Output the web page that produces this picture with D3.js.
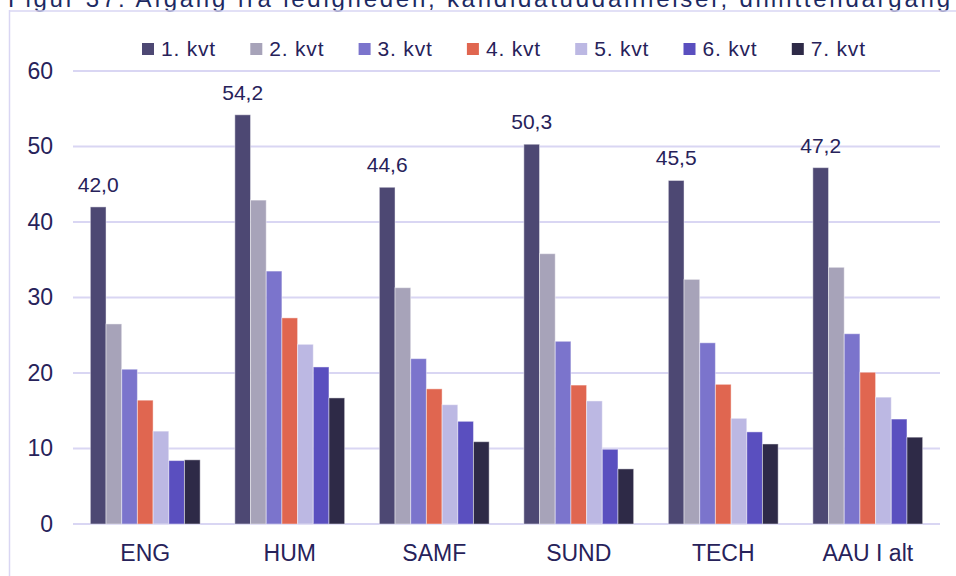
<!DOCTYPE html>
<html>
<head>
<meta charset="utf-8">
<script src="https://cdn.jsdelivr.net/npm/d3@7"></script>
<style>
  body { margin: 0; background: #fff; }
  svg { display: block; font-family: "Liberation Sans", Arial, sans-serif; }
</style>
</head>
<body>
<div id="chart"></div>
<script>
// data
var categories = ["ENG", "HUM", "SAMF", "SUND", "TECH", "AAU I alt"];
var seriesNames = ["1. kvt", "2. kvt", "3. kvt", "4. kvt", "5. kvt", "6. kvt", "7. kvt"];
var kvt1 = [42.0, 54.2, 44.6, 50.3, 45.5, 47.2];
var kvt2 = [26.5, 42.9, 31.3, 35.8, 32.4, 34.0];
var kvt3 = [20.5, 33.5, 21.9, 24.2, 24.0, 25.2];
var kvt4 = [16.4, 27.3, 17.9, 18.4, 18.5, 20.1];
var kvt5 = [12.3, 23.8, 15.8, 16.3, 14.0, 16.8];
var kvt6 = [8.4, 20.8, 13.6, 9.9, 12.2, 13.9];
var kvt7 = [8.5, 16.7, 10.9, 7.3, 10.6, 11.5];
var yTicks = [0, 10, 20, 30, 40, 50, 60];
var colors = ["#4d4873", "#a7a3b9", "#7b74cc", "#e06650", "#bcb8e3", "#5a4fbf", "#2e2a47"];

var allSeries = [kvt1, kvt2, kvt3, kvt4, kvt5, kvt6, kvt7];

var width = 956;
var height = 576;
var textColor = "#27225a";
var gridColor = "#d9d6f3";

var svg = d3.select("#chart")
  .append("svg")
  .attr("width", width)
  .attr("height", height);

// title, cut off by the top edge like in the source
svg.append("text")
  .attr("x", 8)
  .attr("y", 7)
  .attr("textLength", 942)
  .attr("lengthAdjust", "spacing")
  .style("font-size", "24px")
  .attr("fill", "#1d2a62")
  .text("Figur 37: Afgang fra ledigheden, kandidatuddannelser, dimittendårgang");

// frame
svg.append("line")
  .attr("x1", 9).attr("x2", width).attr("y1", 11).attr("y2", 11)
  .attr("stroke", gridColor).attr("stroke-width", 1.5);
svg.append("line")
  .attr("x1", 9.5).attr("x2", 9.5).attr("y1", 10).attr("y2", height)
  .attr("stroke", gridColor).attr("stroke-width", 1.5);

var x0 = d3.scaleBand()
  .domain(categories)
  .range([73, 940])
  .paddingInner(0.24)
  .paddingOuter(0.12);

var x1 = d3.scaleBand()
  .domain(seriesNames)
  .range([0, x0.bandwidth()]);

var y = d3.scaleLinear()
  .domain([0, 60])
  .range([524, 71]);

// gridlines
svg.append("g")
  .selectAll("line")
  .data(yTicks)
  .enter()
  .append("line")
  .attr("x1", 73)
  .attr("x2", 940)
  .attr("y1", function(d) { return y(d); })
  .attr("y2", function(d) { return y(d); })
  .attr("stroke", gridColor)
  .attr("stroke-width", 2);

// y axis labels
var yAxis = svg.append("g")
  .attr("transform", "translate(53,0)")
  .call(d3.axisLeft(y).tickValues(yTicks).tickSize(0).tickPadding(0));
yAxis.select(".domain").remove();
yAxis.selectAll("text")
  .attr("fill", textColor)
  .style("font-size", "23px")
  .style("font-family", "'Liberation Sans', Arial, sans-serif");

// bars
var groups = svg.append("g")
  .selectAll("g")
  .data(categories)
  .enter()
  .append("g")
  .attr("transform", function(d) { return "translate(" + x0(d) + ",0)"; });

groups.selectAll("rect")
  .data(function(d, i) {
    return seriesNames.map(function(s, j) { return { key: s, idx: j, value: allSeries[j][i] }; });
  })
  .enter()
  .append("rect")
  .attr("x", function(d) { return x1(d.key); })
  .attr("width", x1.bandwidth())
  .attr("y", function(d) { return y(d.value); })
  .attr("height", function(d) { return y(0) - y(d.value); })
  .attr("fill", function(d) { return colors[d.idx]; })
  .attr("stroke", "#ffffff")
  .attr("stroke-opacity", 0.45)
  .attr("stroke-width", 1);

// value labels on first series
svg.append("g")
  .selectAll("text")
  .data(categories)
  .enter()
  .append("text")
  .attr("x", function(d) { return x0(d) + x1(seriesNames[0]) + x1.bandwidth() / 2; })
  .attr("y", function(d, i) { return y(kvt1[i]) - 15; })
  .attr("text-anchor", "middle")
  .attr("fill", textColor)
  .style("font-size", "21px")
  .text(function(d, i) { return kvt1[i].toFixed(1).replace(".", ","); });

// x axis labels
var xAxis = svg.append("g")
  .attr("transform", "translate(0," + y(0) + ")")
  .call(d3.axisBottom(x0).tickSize(0).tickPadding(21));
xAxis.select(".domain").remove();
xAxis.selectAll("text")
  .attr("fill", textColor)
  .style("font-size", "23px")
  .style("font-family", "'Liberation Sans', Arial, sans-serif");

// legend
var legend = svg.append("g")
  .selectAll("g")
  .data(seriesNames)
  .enter()
  .append("g")
  .attr("transform", function(d, i) { return "translate(" + (142 + i * 108.3) + ",43)"; });

legend.append("rect")
  .attr("width", 12)
  .attr("height", 12)
  .attr("fill", function(d, i) { return colors[i]; });

legend.append("text")
  .attr("x", 19)
  .attr("y", 13)
  .attr("fill", textColor)
  .style("font-size", "21px")
  .style("letter-spacing", "0.8px")
  .text(function(d) { return d; });
</script>
</body>
</html>
